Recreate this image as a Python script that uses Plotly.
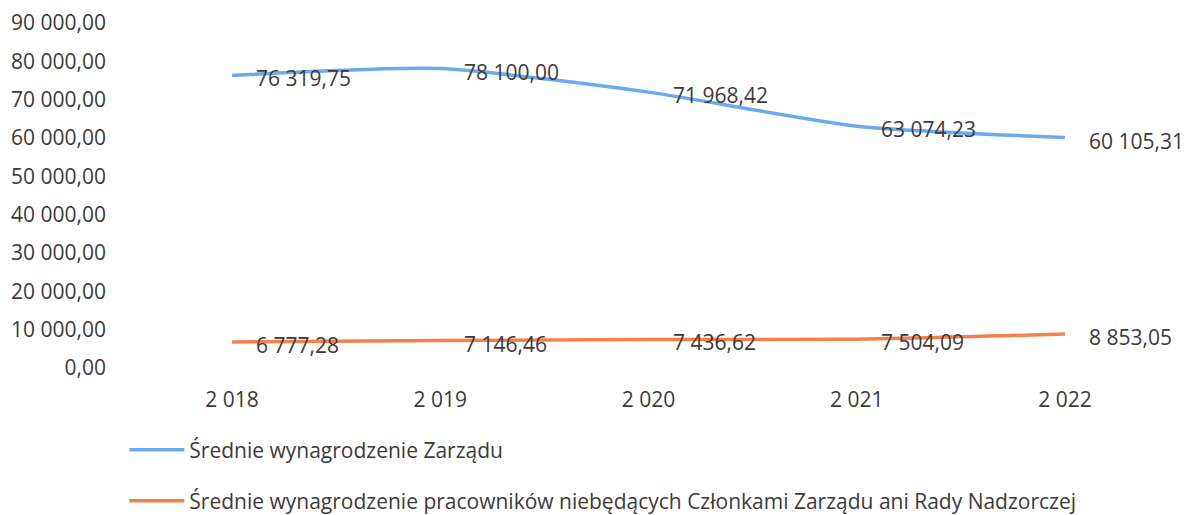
import plotly.graph_objects as go

years = ["2 018", "2 019", "2 020", "2 021", "2 022"]
zarzad = [76319.75, 78100.00, 71968.42, 63074.23, 60105.31]
pracownicy = [6777.28, 7146.46, 7436.62, 7504.09, 8853.05]
name_zarzad = "Średnie wynagrodzenie Zarządu"
name_prac = "Średnie wynagrodzenie pracowników niebędących Członkami Zarządu ani Rady Nadzorczej"
y_ticks = [0, 10000, 20000, 30000, 40000, 50000, 60000, 70000, 80000, 90000]

BLUE = "#6aaaee"
ORANGE = "#f5814a"
TXT = "#3b3b3b"
FONT = "Open Sans"
FS = 21

def fmt(v):
    s = f"{v:,.2f}"
    return s.replace(",", " ").replace(".", ",")

fig = go.Figure()
fig.add_trace(go.Scatter(x=years, y=zarzad, mode="lines", name=name_zarzad,
                         line=dict(color=BLUE, width=3.5, shape="spline", smoothing=0.6),
                         legend="legend"))
fig.add_trace(go.Scatter(x=years, y=pracownicy, mode="lines", name=name_prac,
                         line=dict(color=ORANGE, width=3.5, shape="spline", smoothing=0.6),
                         legend="legend2"))

annotations = []
for series in (zarzad, pracownicy):
    for x, v in zip(years, series):
        annotations.append(dict(x=x, y=v, text=fmt(v), showarrow=False,
                                xanchor="left", yanchor="middle", xshift=22, yshift=-3,
                                font=dict(family=FONT, size=FS, color=TXT)))

legend_common = dict(xanchor="left", yanchor="middle", bgcolor="rgba(0,0,0,0)",
                     font=dict(family=FONT, size=FS, color=TXT), itemwidth=55)

# page body has an 8px default margin, so the figure is sized/offset to fit the viewport
fig.update_layout(
    width=1181, height=507,
    margin=dict(l=120, r=20, t=15, b=147, autoexpand=False),
    paper_bgcolor="white", plot_bgcolor="white",
    separators=", ",
    font=dict(family=FONT, size=FS, color=TXT),
    xaxis=dict(type="category", range=[-0.5, 4.5], showgrid=False, showline=False,
               zeroline=False, ticks="", ticklabelstandoff=17,
               tickfont=dict(family=FONT, size=FS, color=TXT)),
    yaxis=dict(range=[0, 90000], tickvals=y_ticks, tickformat=",.2f", showgrid=False,
               showline=False, zeroline=False, ticks="", ticklabelstandoff=21,
               tickfont=dict(family=FONT, size=FS, color=TXT)),
    legend=dict(x=-0.0035, y=-0.238, **legend_common),
    legend2=dict(x=-0.0035, y=-0.386, **legend_common),
    annotations=annotations,
    showlegend=True,
)

fig.write_html("out.html")
